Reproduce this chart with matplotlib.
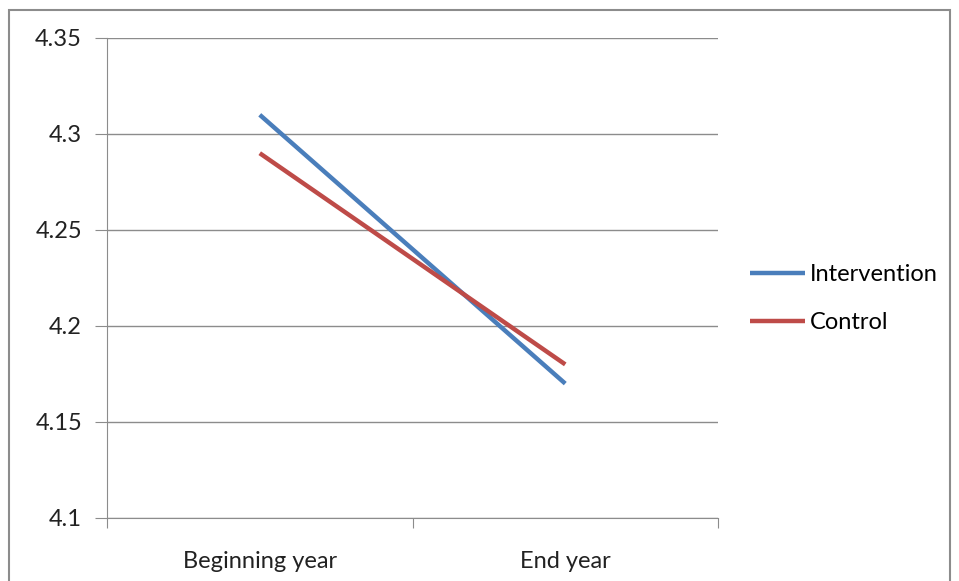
import matplotlib.pyplot as plt
from matplotlib.patches import Rectangle

# datos
categorias = ["Beginning year", "End year"]
intervention = [4.31, 4.17]
control = [4.29, 4.18]
yticks = [4.1, 4.15, 4.2, 4.25, 4.3, 4.35]
ytick_labels = ["4.1", "4.15", "4.2", "4.25", "4.3", "4.35"]

plt.rcParams['font.family'] = ['Lato', 'DejaVu Sans']

fig = plt.figure(figsize=(9.59, 5.81), dpi=100)
ax = fig.add_axes([107 / 959, 1 - 518 / 581, (718 - 107) / 959, (518 - 38) / 581])

# marco exterior del grafico
fig.patches.append(Rectangle((9 / 959, -0.1), (950 - 9) / 959, 1.1 - 10 / 581,
                             transform=fig.transFigure, fill=False,
                             edgecolor="#8c8c8c", linewidth=1.5))

x = range(len(categorias))
ax.plot(x, intervention, color="#4A7EBB", linewidth=3.2, label="Intervention",
        solid_capstyle="butt")
ax.plot(x, control, color="#BE4B48", linewidth=3.2, label="Control",
        solid_capstyle="butt")

ax.set_xlim(-0.5, 1.5)
ax.set_ylim(4.1, 4.35)
ax.set_yticks(yticks)
ax.set_yticklabels(ytick_labels, fontsize=17, color="#222222")
ax.set_xticks([-0.5, 0.5, 1.5])
ax.set_xticklabels([])
ax.set_xticks(list(x), minor=True)
ax.set_xticklabels(categorias, minor=True, fontsize=17, color="#222222")
ax.tick_params(axis="x", which="minor", length=0, pad=24)
ax.tick_params(axis="x", which="major", length=7, color="#8c8c8c", direction="out")
ax.tick_params(axis="y", length=9, color="#8c8c8c", direction="out", pad=9)

ax.grid(axis="y", color="#8c8c8c", linewidth=1)
ax.set_axisbelow(True)
for s in ["top", "right"]:
    ax.spines[s].set_visible(False)
ax.spines["left"].set_color("#8c8c8c")
ax.spines["bottom"].set_color("#8c8c8c")

ax.legend(loc="center left", bbox_to_anchor=(1.052, 0.457), frameon=False,
          fontsize=17, handlelength=2.33, handletextpad=0.2, labelspacing=1.12,
          borderpad=0, borderaxespad=0)

fig.savefig("out.png", dpi=100)
